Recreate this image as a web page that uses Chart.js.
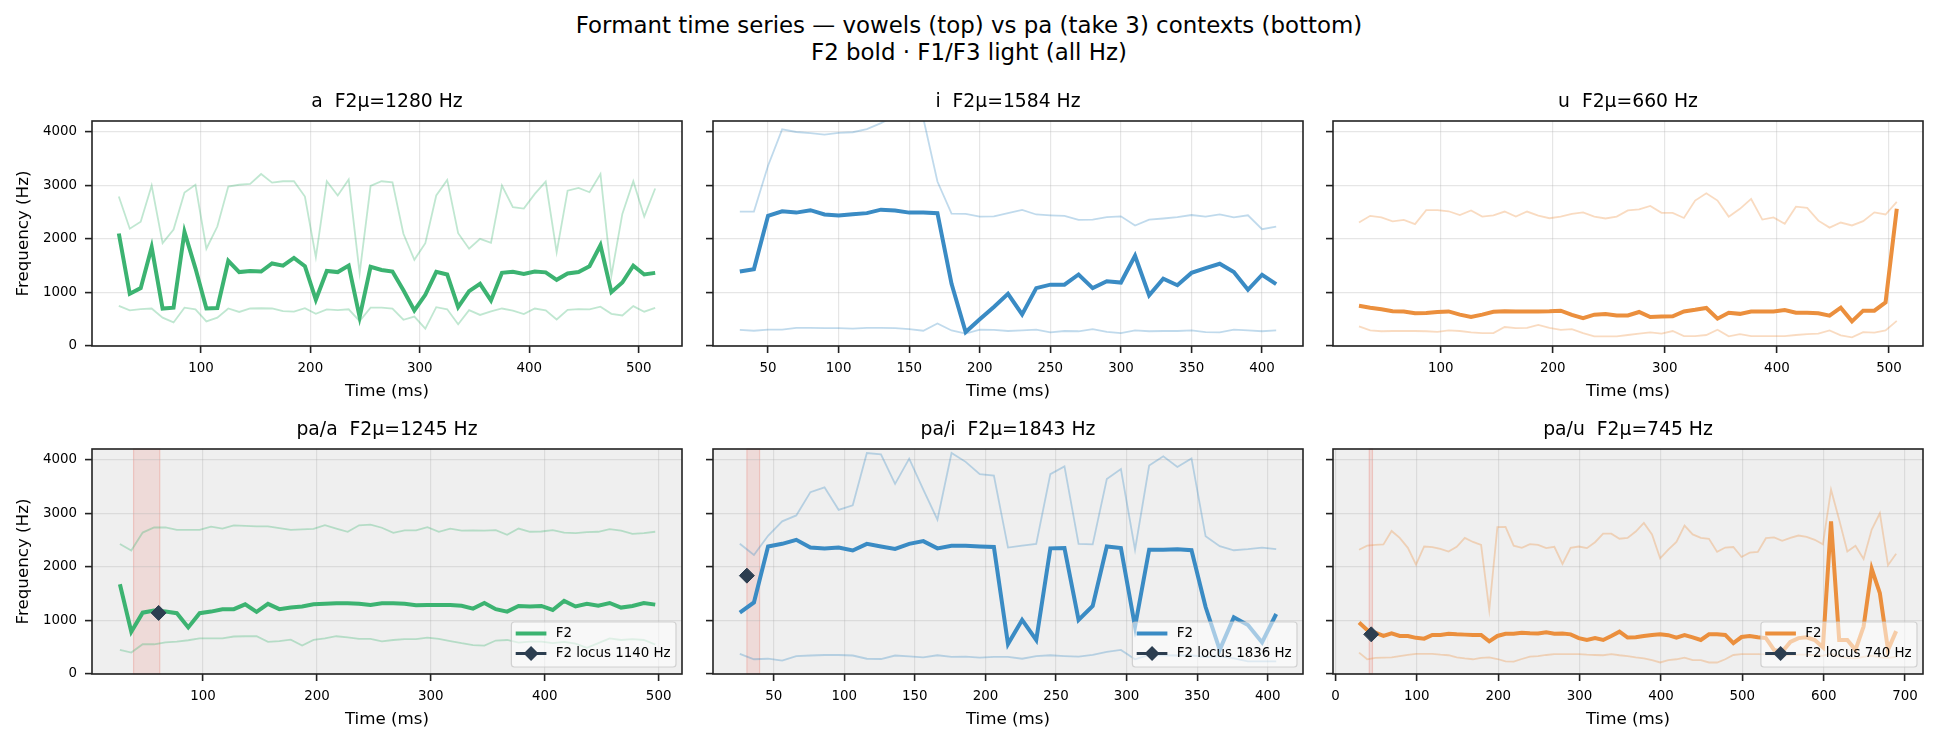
<!DOCTYPE html>
<html>
<head>
<meta charset="utf-8">
<script src="https://cdn.jsdelivr.net/npm/chart.js@4.4.1/dist/chart.umd.min.js"></script>
<style>
  body { margin: 0; background: #fff; width: 1938px; height: 745px; overflow: hidden; position: relative; font-family: 'DejaVu Sans', sans-serif; }
  #sup { position: absolute; left: 0; top: 12px; width: 1938px; text-align: center; font-size: 22.9px; line-height: 27px; color: #000; }
  canvas { position: absolute; }
</style>
</head>
<body>
<div id="sup">Formant time series — vowels (top) vs pa (take 3) contexts (bottom)<br>F2 bold · F1/F3 light (all Hz)</div>
<canvas id="c0"></canvas><canvas id="c1"></canvas><canvas id="c2"></canvas>
<canvas id="c3"></canvas><canvas id="c4"></canvas><canvas id="c5"></canvas>
<script>
// ---- data (ms / Hz) ----
const yTicks = [0, 1000, 2000, 3000, 4000];

// a
const aTime = [25,35,45,55,65,75,85,95,105,115,125,135,145,155,165,175,185,195,205,215,225,235,245,255,265,275,285,295,305,315,325,335,345,355,365,375,385,395,405,415,425,435,445,455,465,475,485,495,505,515];
const aF1 = [750,665,690,700,530,440,715,685,460,530,700,635,700,705,700,650,640,705,600,685,670,685,465,715,715,700,490,550,325,725,685,405,670,580,645,700,660,595,700,665,495,675,690,685,735,600,570,745,640,710];
const aF2 = [2100,975,1080,1845,700,715,2130,1450,700,710,1590,1380,1400,1390,1540,1500,1645,1490,865,1400,1380,1500,540,1480,1420,1390,1040,665,955,1385,1335,725,1025,1160,850,1365,1385,1345,1390,1375,1235,1355,1380,1490,1880,1005,1185,1500,1335,1365];
const aF3 = [2790,2190,2320,2995,1920,2175,2865,3010,1815,2230,2975,3010,3025,3210,3050,3075,3075,2790,1660,3075,2810,3110,1360,2990,3075,3055,2095,1610,1920,2810,3100,2105,1815,2000,1925,2995,2590,2565,2840,3070,1750,2900,2950,2870,3210,1315,2465,3075,2415,2940];

// i
const iTime = [30,40,50,60,70,80,90,100,110,120,130,140,150,160,170,180,190,200,210,220,230,240,250,260,270,280,290,300,310,320,330,340,350,360,370,380,390,400,410];
const iF1 = [300,285,305,305,340,340,335,335,325,340,340,335,315,285,420,290,230,305,300,280,290,305,255,280,275,315,265,240,290,275,280,280,290,260,255,305,290,275,290];
const iF2 = [1390,1435,2430,2515,2490,2535,2455,2435,2460,2480,2545,2530,2490,2490,2480,1160,260,500,730,975,590,1080,1145,1145,1335,1080,1210,1185,1685,945,1255,1135,1365,1455,1535,1380,1050,1330,1155];
const iF3 = [2510,2510,3365,4045,3995,3975,3945,3980,3990,4050,4160,4300,4450,4250,3070,2470,2465,2415,2420,2480,2540,2455,2440,2430,2355,2360,2405,2420,2250,2360,2380,2405,2445,2415,2455,2400,2440,2180,2230];

// u
const uTime = [27,37,47,57,67,77,87,97,107,117,127,137,147,157,167,177,187,197,207,217,227,237,247,257,267,277,287,297,307,317,327,337,347,357,367,377,387,397,407,417,427,437,447,457,467,477,487,497,507];
const uF1 = [365,290,275,280,280,280,275,265,290,280,255,240,240,355,335,340,395,340,300,315,240,180,180,180,205,230,255,230,280,185,185,205,305,180,220,185,185,185,185,205,220,230,290,200,160,260,250,290,470];
const uF2 = [750,715,685,650,645,610,615,635,645,585,540,585,640,650,645,645,645,650,660,580,520,585,595,570,570,635,540,550,555,645,675,710,510,620,600,645,645,645,670,620,620,610,565,715,460,660,660,815,2560];
const uF3 = [2305,2430,2400,2325,2355,2275,2535,2535,2515,2445,2530,2415,2440,2510,2415,2510,2435,2385,2415,2465,2495,2415,2380,2415,2530,2550,2615,2485,2485,2390,2715,2850,2715,2415,2560,2745,2360,2400,2280,2600,2580,2340,2210,2305,2250,2330,2495,2455,2690];

// pa/a
const paTime = [27,37,47,57,67,77,87,97,107,117,127,137,147,157,167,177,187,197,207,217,227,237,247,257,267,277,287,297,307,317,327,337,347,357,367,377,387,397,407,417,427,437,447,457,467,477,487,497];
const paF1 = [450,400,555,555,590,605,630,665,665,665,700,705,705,600,615,640,530,635,665,705,685,655,655,610,635,650,650,680,655,615,575,540,530,625,635,585,605,605,575,600,565,490,575,665,635,650,635,550];
const paF2 = [1675,790,1145,1185,1165,1135,870,1135,1165,1210,1210,1300,1160,1310,1210,1240,1260,1300,1310,1320,1320,1310,1290,1320,1320,1310,1285,1290,1290,1290,1275,1220,1325,1210,1165,1270,1260,1270,1195,1365,1260,1310,1275,1325,1240,1270,1325,1295];
const paF3 = [2425,2305,2640,2735,2735,2690,2690,2690,2750,2715,2775,2765,2755,2755,2725,2690,2700,2710,2780,2715,2655,2775,2790,2730,2635,2680,2680,2740,2655,2715,2675,2680,2675,2685,2600,2715,2655,2660,2685,2640,2630,2650,2655,2705,2675,2615,2630,2655];
const paBurst = [39, 62];
const paLocus = { x: 61, y: 1140 };

// pa/i
const piTime = [26,36,46,56,66,76,86,96,106,116,126,136,146,156,166,176,186,196,206,216,226,236,246,256,266,276,286,296,306,316,326,336,346,356,366,376,386,396,406];
const piF1 = [375,275,285,250,335,345,355,355,345,285,280,345,330,310,350,320,325,305,320,320,285,335,350,335,325,355,415,450,275,355,350,345,345,320,335,290,235,235,235];
const piF2 = [1145,1335,2380,2430,2505,2360,2345,2360,2305,2430,2380,2335,2430,2480,2345,2395,2395,2380,2370,560,1010,635,2345,2350,1010,1270,2380,2350,885,2320,2320,2330,2310,1250,450,1060,915,590,1120];
const piF3 = [2430,2220,2580,2850,2960,3395,3485,3065,3150,4125,4100,3550,4020,3440,2880,4125,3960,3730,3705,2360,2395,2430,3730,3875,2430,2420,3640,3825,2320,3890,4065,3865,4025,2570,2385,2310,2330,2360,2330];
const piBurst = [31, 40];
const piLocus = { x: 31, y: 1836 };

// pa/u
const puTime = [29,39,49,59,69,79,89,99,109,119,129,139,149,159,169,179,189,199,209,219,229,239,249,259,269,279,289,299,309,319,329,339,349,359,369,379,389,399,409,419,429,439,449,459,469,479,489,499,509,519,529,539,549,559,569,579,589,599,609,619,629,639,649,659,669,679,689];
const puF1 = [400,275,300,305,310,335,355,375,375,375,360,350,310,290,275,300,310,280,235,230,280,325,335,355,370,370,370,370,360,355,350,370,350,335,310,290,260,215,260,275,305,260,260,215,215,275,355,370,370,370,365,360,350,355,360,360,350,340,380,330,300,290,320,340,310,300,320];
const puF2 = [960,820,770,710,760,710,710,675,660,730,730,750,740,735,730,730,610,710,750,750,770,760,755,780,750,755,740,670,635,670,635,710,790,680,685,710,730,740,725,680,725,685,635,740,740,730,575,690,710,685,670,450,415,600,670,685,635,500,2850,635,635,450,885,1960,1510,450,800];
const puF3 = [2320,2395,2410,2420,2670,2540,2355,2040,2380,2370,2335,2285,2375,2540,2465,2410,1195,2740,2745,2395,2355,2425,2410,2350,2375,2055,2355,2380,2350,2460,2620,2620,2525,2540,2660,2820,2605,2160,2320,2465,2770,2605,2540,2525,2280,2360,2370,2185,2265,2280,2535,2550,2485,2540,2585,2560,2505,2420,3440,2880,2285,2395,2145,2695,3000,2030,2245];
const puBurst = [41.5, 45.5];
const puLocus = { x: 44, y: 740 };

// ---- styling / layout ----
const FONT = "'DejaVu Sans', sans-serif";
const GREEN = [60, 179, 113], BLUE = [58, 139, 196], ORANGE = [235, 143, 61];
const DARK = '#2c3e50';
const SPINE = '#222222';
const GRID = 'rgba(176,176,176,0.32)';
const rgb = (c, a) => `rgba(${c[0]},${c[1]},${c[2]},${a})`;

const COL_LEFT = [92, 713, 1333];
const ROW_TOP = [121, 449];
const AX_W = 590, AX_H = 225, TITLE_H = 30, X_H = 60, PAD_R = 22;

Chart.defaults.color = '#000';
Chart.defaults.font.family = FONT;

const panels = [
  { id: 'c0', row: 0, col: 0, title: 'a  F2μ=1280 Hz', t: aTime, f1: aF1, f2: aF2, f3: aF3, color: GREEN,
    xMin: 0.5, xMax: 539.5, xTicks: [100, 200, 300, 400, 500] },
  { id: 'c1', row: 0, col: 1, title: 'i  F2μ=1584 Hz', t: iTime, f1: iF1, f2: iF2, f3: iF3, color: BLUE,
    xMin: 11, xMax: 429, xTicks: [50, 100, 150, 200, 250, 300, 350, 400] },
  { id: 'c2', row: 0, col: 2, title: 'u  F2μ=660 Hz', t: uTime, f1: uF1, f2: uF2, f3: uF3, color: ORANGE,
    xMin: 3.8, xMax: 530.4, xTicks: [100, 200, 300, 400, 500] },
  { id: 'c3', row: 1, col: 0, title: 'pa/a  F2μ=1245 Hz', t: paTime, f1: paF1, f2: paF2, f3: paF3, color: GREEN,
    xMin: 2.5, xMax: 520.5, xTicks: [100, 200, 300, 400, 500], band: paBurst, locus: paLocus },
  { id: 'c4', row: 1, col: 1, title: 'pa/i  F2μ=1843 Hz', t: piTime, f1: piF1, f2: piF2, f3: piF3, color: BLUE,
    xMin: 7, xMax: 425, xTicks: [50, 100, 150, 200, 250, 300, 350, 400], band: piBurst, locus: piLocus },
  { id: 'c5', row: 1, col: 2, title: 'pa/u  F2μ=745 Hz', t: puTime, f1: puF1, f2: puF2, f3: puF3, color: ORANGE,
    xMin: -3, xMax: 722, xTicks: [0, 100, 200, 300, 400, 500, 600, 700], band: puBurst, locus: puLocus }
];

function diamond(ctx, x, y, r) {
  ctx.beginPath();
  ctx.moveTo(x, y - r); ctx.lineTo(x + r, y); ctx.lineTo(x, y + r); ctx.lineTo(x - r, y);
  ctx.closePath();
  ctx.fill();
}

function drawLegend(ctx, a, p) {
  const fs = 13.4;
  ctx.save();
  ctx.font = fs + 'px ' + FONT;
  const labels = ['F2', 'F2 locus ' + p.locus.y + ' Hz'];
  const tw = Math.max(...labels.map(s => ctx.measureText(s).width));
  const w = 4.3 + 30.7 + 9.3 + tw + 5.4, h = 45;
  const bx = a.right - 6 - w, by = a.bottom - 7 - h;
  ctx.beginPath();
  ctx.roundRect(bx, by, w, h, 3);
  ctx.fillStyle = 'rgba(255,255,255,0.55)';
  ctx.fill();
  ctx.strokeStyle = 'rgba(200,200,200,0.8)';
  ctx.lineWidth = 1.2;
  ctx.stroke();
  const sx0 = bx + 4.3, sx1 = bx + 35;
  const rows = [by + 11.5, by + 31.5];
  ctx.lineCap = 'butt';
  ctx.strokeStyle = rgb(p.color, 1); ctx.lineWidth = 4;
  ctx.beginPath(); ctx.moveTo(sx0, rows[0]); ctx.lineTo(sx1, rows[0]); ctx.stroke();
  ctx.strokeStyle = DARK; ctx.lineWidth = 3;
  ctx.beginPath(); ctx.moveTo(sx0, rows[1]); ctx.lineTo(sx1, rows[1]); ctx.stroke();
  ctx.fillStyle = DARK;
  diamond(ctx, (sx0 + sx1) / 2, rows[1], 7.5);
  ctx.fillStyle = '#000';
  ctx.textBaseline = 'middle';
  ctx.textAlign = 'left';
  labels.forEach((s, k) => ctx.fillText(s, bx + 44.3, rows[k]));
  ctx.restore();
}

function decor(p) {
  return {
    id: 'decor',
    beforeDraw(chart) {
      const { ctx, chartArea: a, scales: { x } } = chart;
      ctx.save();
      if (p.row === 1) {
        ctx.fillStyle = '#efefef';
        ctx.fillRect(a.left, a.top, a.width, a.height);
      }
      if (p.band) {
        const x0 = x.getPixelForValue(p.band[0]), x1 = x.getPixelForValue(p.band[1]);
        ctx.fillStyle = 'rgba(231,76,60,0.13)';
        ctx.fillRect(x0, a.top, x1 - x0, a.height);
        ctx.strokeStyle = 'rgba(231,76,60,0.22)';
        ctx.lineWidth = 1.2;
        ctx.strokeRect(x0, a.top, x1 - x0, a.height);
      }
      ctx.restore();
    },
    afterDatasetsDraw(chart) {
      const { ctx, chartArea: a } = chart;
      if (p.locus) drawLegend(ctx, a, p);
      ctx.save();
      ctx.strokeStyle = SPINE;
      ctx.lineWidth = 1.6;
      ctx.strokeRect(a.left, a.top, a.width, a.height);
      ctx.restore();
    }
  };
}

function makeChart(p) {
  const yW = p.col === 0 ? 92 : 50;
  const cw = yW + AX_W + PAD_R, ch = TITLE_H + AX_H + X_H;
  const canvas = document.getElementById(p.id);
  canvas.width = cw; canvas.height = ch;
  canvas.style.width = cw + 'px'; canvas.style.height = ch + 'px';
  canvas.style.left = (COL_LEFT[p.col] - yW) + 'px';
  canvas.style.top = (ROW_TOP[p.row] - TITLE_H) + 'px';

  const pts = vals => p.t.map((x, i) => ({ x, y: vals[i] }));
  const line = (label, vals, color, width) => ({
    label, data: pts(vals), borderColor: color, backgroundColor: color,
    borderWidth: width, pointRadius: 0, tension: 0, clip: 0
  });
  const datasets = [];
  if (p.locus) {
    datasets.push({ label: 'F2 locus', data: [{ x: p.locus.x, y: p.locus.y }], showLine: false,
      pointStyle: 'rectRot', pointRadius: 7.5, backgroundColor: DARK, borderColor: DARK, borderWidth: 1 });
  }
  datasets.push(line('F2', p.f2, rgb(p.color, 1), 4));
  datasets.push(line('F1', p.f1, rgb(p.color, 0.32), 1.8));
  datasets.push(line('F3', p.f3, rgb(p.color, 0.32), 1.8));

  const tickFont = { family: FONT, size: 13.4 };
  const gridOpts = { color: GRID, lineWidth: 1.2, tickLength: 7, tickColor: SPINE, tickWidth: 1.6 };

  new Chart(canvas, {
    type: 'line',
    data: { datasets },
    plugins: [decor(p)],
    options: {
      responsive: false, animation: false, devicePixelRatio: 1,
      layout: { padding: { left: 0, top: 0, right: PAD_R, bottom: 0 } },
      plugins: {
        legend: { display: false },
        tooltip: { enabled: false },
        title: { display: true, text: p.title, fullSize: false, color: '#000',
          font: { family: FONT, size: 18.75, weight: 'normal' }, padding: { top: 0, bottom: 7.5 } }
      },
      scales: {
        x: {
          type: 'linear', min: p.xMin, max: p.xMax,
          afterBuildTicks: s => { s.ticks = p.xTicks.map(v => ({ value: v })); },
          afterFit: s => { s.height = X_H; s.paddingLeft = 0; s.paddingRight = 0; },
          ticks: { autoSkip: false, maxRotation: 0, color: '#000', font: tickFont, padding: 7, callback: v => String(v) },
          grid: gridOpts,
          border: { display: false },
          title: { display: true, text: 'Time (ms)', color: '#000', font: { family: FONT, size: 16.7 }, padding: { top: 0, bottom: 4.4 } }
        },
        y: {
          min: 0, max: 4200,
          afterBuildTicks: s => { s.ticks = yTicks.map(v => ({ value: v })); },
          afterFit: s => { s.width = yW; s.paddingTop = 0; s.paddingBottom = 0; },
          ticks: { color: '#000', font: tickFont, padding: 8, callback: v => (p.col === 0 ? String(v) : '') },
          grid: gridOpts,
          border: { display: false },
          title: { display: p.col === 0, text: 'Frequency (Hz)', color: '#000', font: { family: FONT, size: 16.7 }, padding: { top: 14, bottom: 0 } }
        }
      }
    }
  });
}

panels.forEach(makeChart);
</script>
</body>
</html>
